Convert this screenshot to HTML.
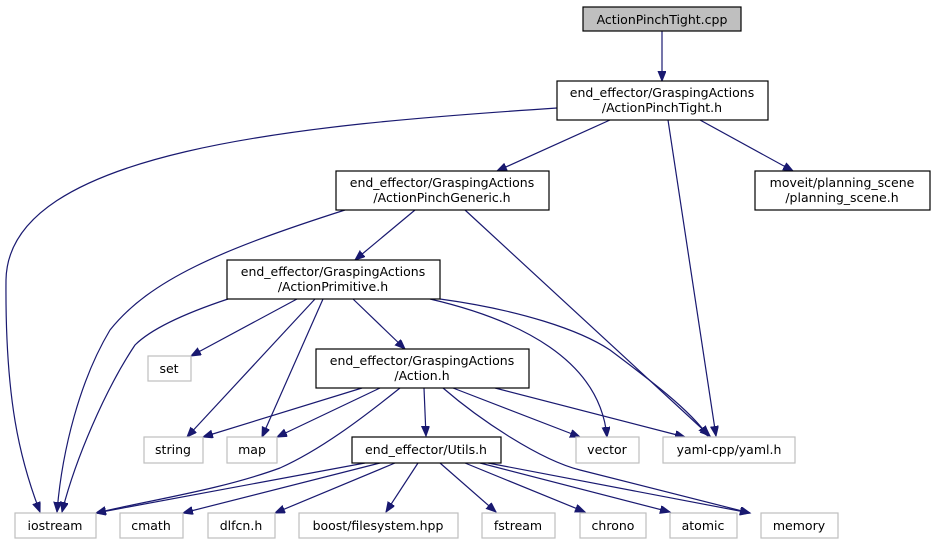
<!DOCTYPE html>
<html><head><meta charset="utf-8"><style>
html,body{margin:0;padding:0;background:#fff;}
svg{display:block;}
text{font-family:"DejaVu Sans","Liberation Sans",sans-serif;font-size:12.5px;fill:#000;}
.n{fill:#fff;stroke:#000;stroke-width:1.2;}
.g{fill:#fff;stroke:#bfbfbf;stroke-width:1.2;}
.e{fill:none;stroke:#191970;stroke-width:1.2;marker-end:url(#a);}
</style></head><body>
<svg width="935" height="544" viewBox="0 0 935 544" xmlns="http://www.w3.org/2000/svg">
<defs><marker id="a" markerUnits="userSpaceOnUse" markerWidth="12" markerHeight="10" refX="10" refY="4" orient="auto"><path d="M0,0 L10,4 L0,8 Z" fill="#191970" stroke="#191970"/></marker></defs>
<!-- edges -->
<path class="e" d="M662,31 L662,81"/>
<path class="e" d="M557,108 C300,125 8,150 6,280 C5,400 20,460 40,512"/>
<path class="e" d="M610,120 L497,171"/>
<path class="e" d="M700,120 L793,171"/>
<path class="e" d="M668,120 L716,436"/>
<path class="e" d="M345,210 C220,250 150,280 110,330 C80,380 62,450 57,512"/>
<path class="e" d="M415,210 L355,260"/>
<path class="e" d="M465,210 L710,436"/>
<path class="e" d="M228,299 C180,315 150,330 135,345 C105,390 75,460 62,512"/>
<path class="e" d="M297,299 L191,356"/>
<path class="e" d="M315,299 L187,437"/>
<path class="e" d="M323,299 L262,437"/>
<path class="e" d="M353,299 L405,349"/>
<path class="e" d="M430,299 C520,320 600,360 607,437"/>
<path class="e" d="M440,299 C520,310 580,330 610,350 C650,380 690,410 708,436"/>
<path class="e" d="M362,388 L203,437"/>
<path class="e" d="M380,388 L277,437"/>
<path class="e" d="M400,388 C360,420 320,450 280,468 C220,490 150,500 96,513"/>
<path class="e" d="M424,388 L426,436"/>
<path class="e" d="M453,388 L580,437"/>
<path class="e" d="M495,388 L685,437"/>
<path class="e" d="M443,388 C480,420 540,460 580,470 L750,513"/>
<path class="e" d="M365,463 L96,513"/>
<path class="e" d="M380,463 L183,513"/>
<path class="e" d="M395,463 L275,513"/>
<path class="e" d="M418,463 L386,512"/>
<path class="e" d="M440,463 L496,512"/>
<path class="e" d="M465,463 L585,512"/>
<path class="e" d="M480,463 L670,512"/>
<path class="e" d="M488,463 L750,513"/>
<!-- nodes -->
<rect x="583" y="7" width="158" height="24" fill="#bfbfbf" stroke="#000" stroke-width="1.2"/>
<text x="662" y="24" text-anchor="middle">ActionPinchTight.cpp</text>
<rect class="n" x="557" y="81" width="211" height="39"/>
<text x="662" y="97" text-anchor="middle">end_effector/GraspingActions</text>
<text x="662" y="112" text-anchor="middle">/ActionPinchTight.h</text>
<rect class="n" x="336" y="171" width="213" height="39"/>
<text x="442" y="187" text-anchor="middle">end_effector/GraspingActions</text>
<text x="442" y="202" text-anchor="middle">/ActionPinchGeneric.h</text>
<rect class="n" x="755" y="171" width="175" height="39"/>
<text x="842" y="187" text-anchor="middle">moveit/planning_scene</text>
<text x="842" y="202" text-anchor="middle">/planning_scene.h</text>
<rect class="n" x="227" y="260" width="213" height="39"/>
<text x="333" y="276" text-anchor="middle">end_effector/GraspingActions</text>
<text x="333" y="291" text-anchor="middle">/ActionPrimitive.h</text>
<rect class="n" x="316" y="349" width="213" height="39"/>
<text x="422" y="365" text-anchor="middle">end_effector/GraspingActions</text>
<text x="422" y="380" text-anchor="middle">/Action.h</text>
<rect class="n" x="352" y="437" width="149" height="26"/>
<text x="426" y="454" text-anchor="middle">end_effector/Utils.h</text>
<rect class="g" x="148" y="356" width="43" height="25"/><text x="169" y="373" text-anchor="middle">set</text>
<rect class="g" x="144" y="437" width="59" height="26"/><text x="173" y="454" text-anchor="middle">string</text>
<rect class="g" x="227" y="437" width="50" height="26"/><text x="252" y="454" text-anchor="middle">map</text>
<rect class="g" x="576" y="437" width="63" height="26"/><text x="607" y="454" text-anchor="middle">vector</text>
<rect class="g" x="663" y="437" width="132" height="26"/><text x="729" y="454" text-anchor="middle">yaml-cpp/yaml.h</text>
<rect class="g" x="15" y="513" width="81" height="25"/><text x="55" y="530" text-anchor="middle">iostream</text>
<rect class="g" x="120" y="513" width="63" height="25"/><text x="151" y="530" text-anchor="middle">cmath</text>
<rect class="g" x="208" y="513" width="67" height="25"/><text x="241" y="530" text-anchor="middle">dlfcn.h</text>
<rect class="g" x="299" y="513" width="159" height="25"/><text x="378" y="530" text-anchor="middle">boost/filesystem.hpp</text>
<rect class="g" x="482" y="513" width="73" height="25"/><text x="518" y="530" text-anchor="middle">fstream</text>
<rect class="g" x="580" y="513" width="66" height="25"/><text x="613" y="530" text-anchor="middle">chrono</text>
<rect class="g" x="670" y="513" width="67" height="25"/><text x="703" y="530" text-anchor="middle">atomic</text>
<rect class="g" x="761" y="513" width="77" height="25"/><text x="799" y="530" text-anchor="middle">memory</text>
</svg>
</body></html>
